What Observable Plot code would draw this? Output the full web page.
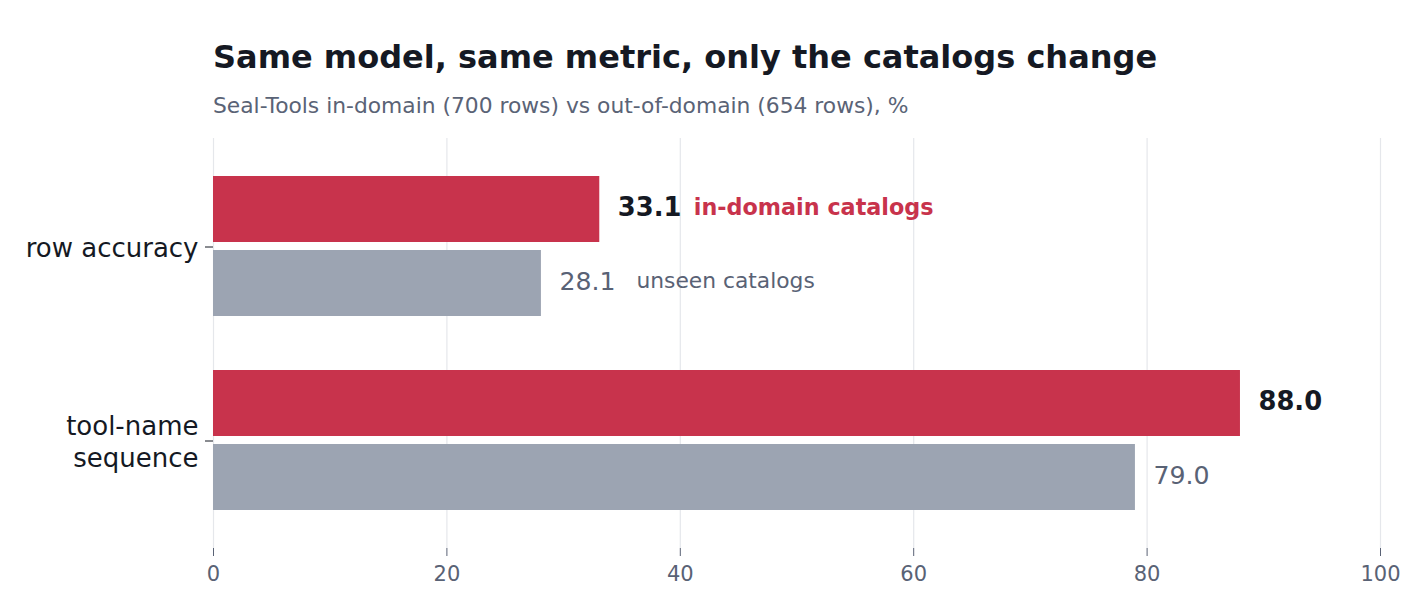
<!DOCTYPE html>
<html>
<head>
<meta charset="utf-8">
<script src="https://cdn.jsdelivr.net/npm/d3@7"></script>
<script src="https://cdn.jsdelivr.net/npm/@observablehq/plot@0.6"></script>
<style>
  html, body { margin: 0; padding: 0; background: #fff; }
  body { width: 1428px; height: 612px; position: relative; overflow: hidden; font-family: "DejaVu Sans", sans-serif; }
  #title { position: absolute; left: 213px; top: 41.2px; font-size: 32px; line-height: 1; font-weight: bold; color: #151923; margin: 0; white-space: nowrap; }
  #subtitle { position: absolute; left: 213px; top: 94.9px; font-size: 21.8px; line-height: 1; color: #5a6376; margin: 0; white-space: nowrap; }
  #chart { position: absolute; left: 0; top: 130px; }
</style>
</head>
<body>
<div id="title">Same model, same metric, only the catalogs change</div>
<div id="subtitle">Seal-Tools in-domain (700 rows) vs out-of-domain (654 rows), %</div>
<div id="chart"></div>
<script>
const metrics = ["row accuracy", "tool-name sequence"];
const metricLabels = ["row accuracy", "tool-name\nsequence"];
const series = ["in-domain catalogs", "unseen catalogs"];
const inDomain = [33.1, 88.0];
const unseen = [28.1, 79.0];
const xTicks = [0, 20, 40, 60, 80, 100];
const labelledMetric = "row accuracy";

const inRows = metrics.map((m, i) => ({metric: m, series: series[0], value: inDomain[i]}));
const unRows = metrics.map((m, i) => ({metric: m, series: series[1], value: unseen[i]}));

const red = "#c8334c";
const gray = "#9ca4b2";
const dark = "#151923";
const mid = "#596275";

const chart = Plot.plot({
  width: 1428,
  height: 482,
  marginLeft: 213,
  marginRight: 48,
  marginTop: 8,
  marginBottom: 64,
  style: {fontFamily: "DejaVu Sans", background: "white", overflow: "visible"},
  x: {domain: [0, 100]},
  y: {domain: metrics, paddingInner: 0.28, paddingOuter: 0.194},
  marks: [
    Plot.gridX(xTicks, {stroke: "#e5e7eb", strokeOpacity: 1, strokeWidth: 1.2}),
    Plot.barX(inRows, {x: "value", y: "metric", fill: red, insetBottom: 74}),
    Plot.barX(unRows, {x: "value", y: "metric", fill: gray, insetTop: 74}),
    Plot.text(inRows, {x: "value", y: "metric", dy: -39, dx: 18, text: d => d.value.toFixed(1), textAnchor: "start", fill: dark, fontWeight: "bold", fontSize: 25.8}),
    Plot.text(unRows, {x: "value", y: "metric", dy: 35, dx: 18, text: d => d.value.toFixed(1), textAnchor: "start", fill: mid, fontSize: 25.2}),
    Plot.text(inRows.filter(d => d.metric === labelledMetric), {x: "value", y: "metric", dy: -39, dx: 94, text: "series", textAnchor: "start", fill: red, fontWeight: "bold", fontSize: 22.3}),
    Plot.text(unRows.filter(d => d.metric === labelledMetric), {x: "value", y: "metric", dy: 35, dx: 95, text: "series", textAnchor: "start", fill: mid, fontSize: 21.8}),
    Plot.axisX({ticks: xTicks, tickSize: 8, tickPadding: 10, fontSize: 21, color: mid, label: null}),
    Plot.axisY({tickSize: 8, tickPadding: 7, fontSize: 26, color: dark, label: null, lineHeight: 1.2, dy: 0.5,
      tickFormat: d => metricLabels[metrics.indexOf(d)]})
  ]
});
document.getElementById("chart").appendChild(chart);
</script>
</body>
</html>
